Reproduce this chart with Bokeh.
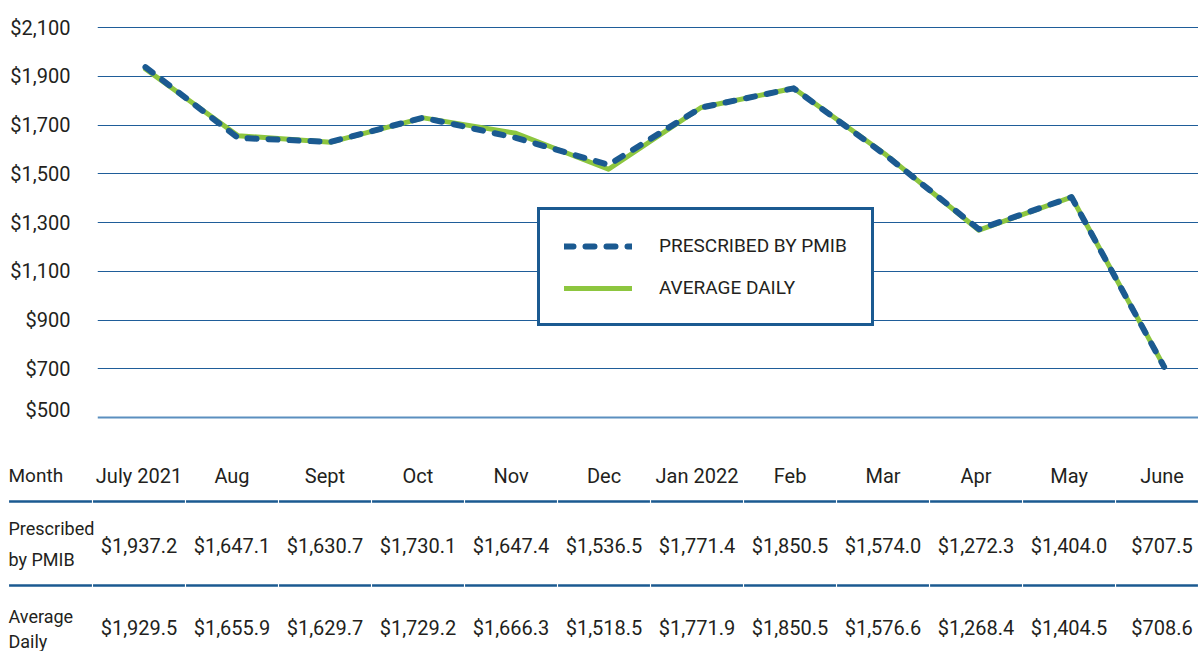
from bokeh.plotting import figure
from bokeh.models import (Range1d, FixedTicker, NumeralTickFormatter, Span, Legend,
                          LegendItem, ColumnDataSource)
from bokeh.layouts import column
from bokeh.core.properties import value
from bokeh.embed import file_html
from bokeh.resources import INLINE

# ---------------- data ----------------
months = ["July 2021", "Aug", "Sept", "Oct", "Nov", "Dec",
          "Jan 2022", "Feb", "Mar", "Apr", "May", "June"]
prescribed = [1937.2, 1647.1, 1630.7, 1730.1, 1647.4, 1536.5,
              1771.4, 1850.5, 1574.0, 1272.3, 1404.0, 707.5]
average = [1929.5, 1655.9, 1629.7, 1729.2, 1666.3, 1518.5,
           1771.9, 1850.5, 1576.6, 1268.4, 1404.5, 708.6]
y_ticks = [500, 700, 900, 1100, 1300, 1500, 1700, 1900, 2100]
series_names = ["PRESCRIBED BY PMIB", "AVERAGE DAILY"]
row_labels = [["Prescribed", "by PMIB"], ["Average", "Daily"]]
header_label = "Month"

# ---------------- style ----------------
FONT = "Roboto"
TXT = "#231f20"
BLUE = "#1b5a91"
GRID = "#1f5d99"
GREEN = "#8dc63f"
AXISLINE = "#5b8fbf"

W = 1198
idx = list(range(len(months)))

# ---------------- chart ----------------
p = figure(width=W, height=421, output_backend="svg", toolbar_location=None,
           x_range=Range1d(-0.518, 11.371), y_range=Range1d(483.6, 2210.8),
           min_border_left=97, min_border_right=0, min_border_top=0, min_border_bottom=0)
p.frame_align = False
p.outline_line_color = None
p.xaxis.visible = False
p.xgrid.visible = False

p.yaxis.ticker = FixedTicker(ticks=y_ticks)
p.yaxis.formatter = NumeralTickFormatter(format="$0,0")
p.yaxis.axis_line_color = None
p.yaxis.major_tick_line_color = None
p.yaxis.minor_tick_line_color = None
p.yaxis.major_tick_out = 0
p.yaxis.major_tick_in = 0
p.yaxis.major_label_standoff = 27
p.yaxis.major_label_text_font = FONT
p.yaxis.major_label_text_font_size = "20px"
p.yaxis.major_label_text_color = TXT

p.ygrid.ticker = FixedTicker(ticks=y_ticks[1:])
p.ygrid.grid_line_color = GRID
p.ygrid.grid_line_width = 1

p.add_layout(Span(location=y_ticks[0], dimension="width", line_color=AXISLINE, line_width=2))

src = ColumnDataSource(dict(x=idx, pres=prescribed, avg=average))
r_avg = p.line("x", "avg", source=src, line_color=GREEN, line_width=5,
               line_cap="round", line_join="round")
r_pres = p.line("x", "pres", source=src, line_color=BLUE, line_width=6,
                line_dash="9 12", line_cap="round", line_join="round")

legend = Legend(items=[LegendItem(label=series_names[0], renderers=[r_pres]),
                       LegendItem(label=series_names[1], renderers=[r_avg])],
                location=(440, 95), orientation="vertical")
legend.margin = 0
legend.padding = 24
legend.spacing = 19
legend.glyph_width = 68
legend.glyph_height = 22
legend.label_height = 22
legend.label_standoff = 27
legend.label_text_font = FONT
legend.label_text_font_size = "19px"
legend.label_text_color = TXT
legend.border_line_color = BLUE
legend.border_line_alpha = 1
legend.border_line_width = 3
legend.background_fill_color = "white"
legend.background_fill_alpha = 1
p.add_layout(legend)

# ---------------- table ----------------
x_left = -1.403
t = figure(width=W, height=230, output_backend="svg", toolbar_location=None,
           x_range=Range1d(-1.489, 11.392), y_range=Range1d(230, 0),
           min_border=0)
t.frame_align = False
t.outline_line_color = None
t.axis.visible = False
t.grid.visible = False

# row positions (table-local, y grows downward)
y_header = 54
y_rule = [80, 164]
y_vals = [124, 206]
y_labels = [[107, 138], [195, 220]]

t.text(x=idx, y=[y_header] * len(idx), text=months, text_align="center",
       text_baseline="middle", text_font=value(FONT), text_font_size=value("20px"),
       text_color=TXT)
t.text(x=[x_left], y=[y_header], text=[header_label], text_align="left",
       text_baseline="middle", text_font=value(FONT), text_font_size=value("19px"),
       text_color=TXT)

for series, yv in zip([prescribed, average], y_vals):
    t.text(x=idx, y=[yv] * len(idx), text=[f"${v:,.1f}" for v in series],
           text_align="center", text_baseline="middle", text_font=value(FONT),
           text_font_size=value("20px"), text_color=TXT)

for labs, ys in zip(row_labels, y_labels):
    t.text(x=[x_left] * len(labs), y=ys, text=labs, text_align="left",
           text_baseline="middle", text_font=value(FONT), text_font_size=value("18px"),
           text_color=TXT)

# rules split into cells
bounds = [x_left] + [i - 0.5 for i in idx] + [11.392]
eps = 0.006
x0s, x1s, ys = [], [], []
for yr in y_rule:
    for a, b in zip(bounds[:-1], bounds[1:]):
        x0s.append(a + eps)
        x1s.append(b - eps)
        ys.append(yr)
t.segment(x0=x0s, y0=ys, x1=x1s, y1=ys, line_color=BLUE, line_width=2.5)

layout = column(p, t, spacing=0)
open("out.html", "w").write(file_html(layout, INLINE))
